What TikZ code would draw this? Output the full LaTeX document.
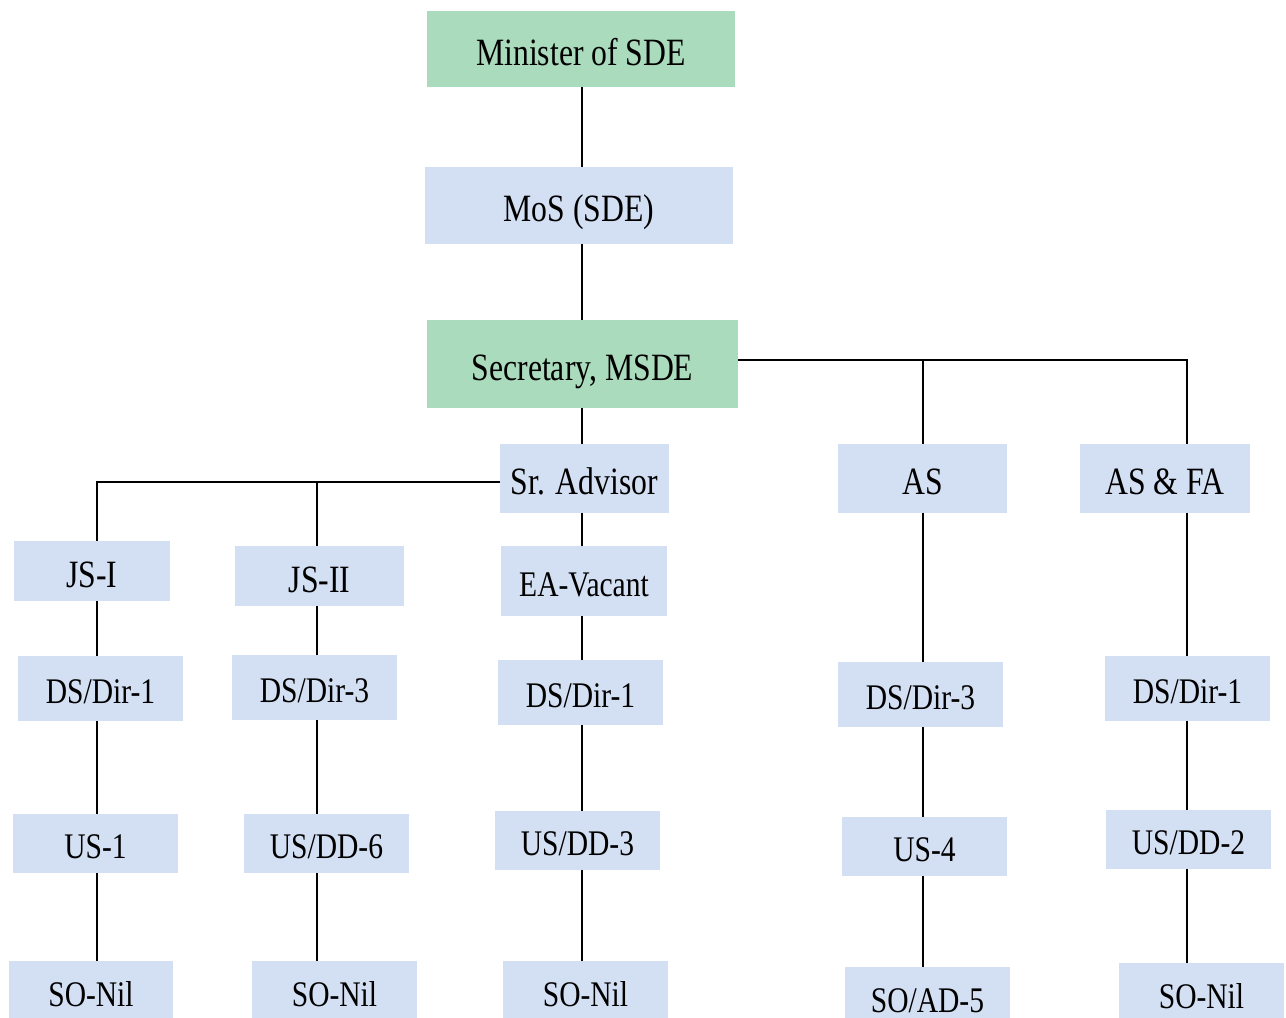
\documentclass[tikz,border=0pt]{standalone}
\usepackage{fontspec}
\setmainfont{Liberation Serif}[FakeStretch=0.82]
\definecolor{boxgreen}{RGB}{171,219,189}
\definecolor{boxblue}{RGB}{211,223,242}

\begin{document}
\begin{tikzpicture}[x=0.02cm,y=-0.02cm,inner sep=0pt,outer sep=0pt,line width=1pt,
post/.style={fill=boxblue,rectangle,minimum width=3.3cm,minimum height=1.3cm,text height=17.5pt,text depth=0pt,font=\fontsize{20.5}{24}\selectfont},
head/.style={post,minimum width=3.38cm,minimum height=1.38cm,text height=18.5pt,font=\fontsize{22}{26}\selectfont},
chief/.style={head,fill=boxgreen,minimum width=6.16cm,minimum height=1.52cm}]
\useasboundingbox (0,0) rectangle (1286,1018);
% column lines
\coordinate (c1) at (97,0);
\coordinate (c2) at (317,0);
\coordinate (c3) at (582,0);
\coordinate (c4) at (923,0);
\coordinate (c5) at (1187,0);
% top of the chart
\draw (581,49) node[chief] (min) {Minister of SDE};
\draw (579,205.5) node[head,minimum width=6.16cm,minimum height=1.54cm] (mos) {MoS (SDE)};
\draw (582.5,364) node[chief,minimum width=6.22cm,minimum height=1.76cm] (sec) {Secretary, MSDE};
\draw (584.5,478.5) node[head] (sra) {Sr. Advisor};
\draw (922.5,478.5) node[head] (as) {AS};
\draw (1165,478.5) node[head,minimum width=3.4cm] (asfa) {AS \& FA};
% joint secretaries
\draw (92,571) node[head,minimum width=3.12cm,minimum height=1.2cm] (jsi) {JS-I};
\draw (319.5,576) node[head,minimum height=1.2cm] (jsii) {JS-II};
\draw (584,581) node[post,minimum width=3.32cm,minimum height=1.4cm] (ea) {EA-Vacant};
% directors
\draw (100.5,688.5) node[post] (ds1a) {DS/Dir-1};
\draw (314.5,687.5) node[post] (ds3a) {DS/Dir-3};
\draw (580.5,692.5) node[post] (ds1b) {DS/Dir-1};
\draw (920.5,694.5) node[post] (ds3b) {DS/Dir-3};
\draw (1187.5,688.5) node[post] (ds1c) {DS/Dir-1};
% under secretaries
\draw (95.5,843.5) node[post,minimum height=1.18cm] (us1) {US-1};
\draw (326.5,843.5) node[post,minimum height=1.18cm] (usdd6) {US/DD-6};
\draw (577.5,840.5) node[post,minimum height=1.18cm] (usdd3) {US/DD-3};
\draw (924.5,846.5) node[post,minimum height=1.18cm] (us4) {US-4};
\draw (1188.5,839.5) node[post,minimum height=1.18cm] (usdd2) {US/DD-2};
% section officers
\draw (91,991) node[post,minimum width=3.28cm,minimum height=1.2cm] (so1) {SO-Nil};
\draw (334.5,991) node[post,minimum height=1.2cm] (so2) {SO-Nil};
\draw (585.5,991) node[post,minimum height=1.2cm] (so3) {SO-Nil};
\draw (927.5,997) node[post,minimum height=1.2cm] (soad5) {SO/AD-5};
\draw (1201.5,993) node[post,minimum height=1.2cm] (so5) {SO-Nil};
% connectors
\draw (min.south -| c3) -- (mos.north -| c3);
\draw (mos.south -| c3) -- (sec.north -| c3);
\draw (sec.south -| c3) -- (sra.north -| c3);
\draw ([yshift=2.2pt]sec.east) -| (asfa.north -| c5);
\draw ([yshift=2.2pt]sec.east -| c4) -- (as.north -| c4);
\draw ([yshift=-2pt]sra.west) -| (jsi.north -| c1);
\draw ([yshift=-2pt]sra.west -| c2) -- (jsii.north -| c2);
\foreach \a/\b/\c in {jsi/ds1a/c1,ds1a/us1/c1,us1/so1/c1,
  jsii/ds3a/c2,ds3a/usdd6/c2,usdd6/so2/c2,
  sra/ea/c3,ea/ds1b/c3,ds1b/usdd3/c3,usdd3/so3/c3,
  as/ds3b/c4,ds3b/us4/c4,us4/soad5/c4,
  asfa/ds1c/c5,ds1c/usdd2/c5,usdd2/so5/c5}
  \draw (\a.south -| \c) -- (\b.north -| \c);
\end{tikzpicture}
\end{document}
